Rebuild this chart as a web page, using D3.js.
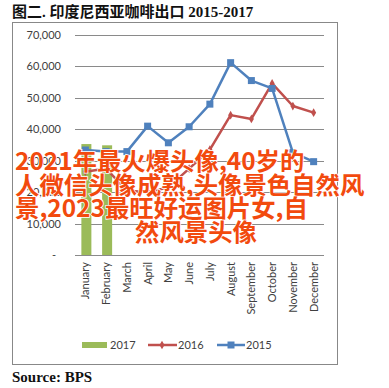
<!DOCTYPE html>
<html><head><meta charset="utf-8">
<script src="https://cdn.jsdelivr.net/npm/d3@7"></script>
<style>html,body{margin:0;padding:0;background:#fff;}svg{display:block;}</style>
</head><body>
<script>
const months = ["January","February","March","April","May","June","July","August","September","October","November","December"];
const values2017 = [35300, 34900];
const values2016 = [26500, 27500, 20500, 20000, 21500, 27500, 33500, 44500, 43300, 54600, 47400, 45300];
const values2015 = [33400, 32900, 32900, 41000, 35700, 40800, 48000, 61200, 55500, 53000, 32600, 29700];
const yTicks = [0, 10000, 20000, 30000, 40000, 50000, 60000, 70000];
const titleText = "图二. 印度尼西亚咖啡出口 2015-2017";
const sourceText = "Source: BPS";
const overlayLines = ["2021年最火爆头像,40岁的", "人微信头像成熟,头像景色自然风", "景,2023最旺好运图片女,自", "然风景头像"];

const W = 389, H = 388;
const svg = d3.select("body").append("svg").attr("width", W).attr("height", H);
const sans = "Lato, 'Open Sans', 'Liberation Sans', sans-serif";

svg.append("text").attr("x", 12).attr("y", 17)
  .attr("font-family", "'Liberation Serif', 'Noto Sans CJK SC', serif")
  .attr("font-weight", "bold").attr("font-size", 15).attr("fill", "#111")
  .text(titleText);

svg.append("rect").attr("x", 12.5).attr("y", 22.5).attr("width", 325).attr("height", 342)
  .attr("fill", "#fff").attr("stroke", "#888").attr("stroke-width", 1);

const x = d3.scaleBand().domain(months).range([75, 324]);
const y = d3.scaleLinear().domain([0, 70000]).range([255, 35]);

// gridlines
svg.append("g").selectAll("line").data(yTicks).join("line")
  .attr("x1", 75).attr("x2", 324)
  .attr("y1", d => Math.round(y(d)) + 0.5).attr("y2", d => Math.round(y(d)) + 0.5)
  .attr("stroke", "#8a8a8a").attr("stroke-width", 1);

// y labels
const fmt = d3.format(",");
svg.append("g").selectAll("text").data(yTicks).join("text")
  .attr("x", d => d === 0 ? 56 : 61).attr("y", d => y(d) + 4)
  .attr("text-anchor", "end").attr("font-family", sans).attr("font-size", 11).attr("fill", "#404040")
  .text(d => d === 0 ? "-" : fmt(d));

// x labels
svg.append("g").selectAll("text").data(months).join("text")
  .attr("transform", d => `translate(${x(d) + x.bandwidth() / 2 + 4},262) rotate(-90)`)
  .attr("text-anchor", "end").attr("font-family", sans).attr("font-size", 11).attr("fill", "#404040")
  .text(d => d);

// bars 2017
const bw = 10;
svg.append("g").selectAll("rect").data(values2017).join("rect")
  .attr("x", (d, i) => x(months[i]) + x.bandwidth() / 2 - bw / 2 + 1)
  .attr("y", d => y(d)).attr("width", bw).attr("height", d => y(0) - y(d))
  .attr("fill", "#9BBB59");

const line = d3.line().x((d, i) => x(months[i]) + x.bandwidth() / 2).y(d => y(d));

// 2016
svg.append("path").datum(values2016).attr("d", line).attr("fill", "none")
  .attr("stroke", "#C0504D").attr("stroke-width", 2.5).attr("stroke-linejoin", "round");
svg.append("g").selectAll("path").data(values2016).join("path")
  .attr("d", d3.symbol(d3.symbolDiamond, 22))
  .attr("transform", (d, i) => `translate(${x(months[i]) + x.bandwidth() / 2},${y(d)})`)
  .attr("fill", "#C0504D");

// 2015
svg.append("path").datum(values2015).attr("d", line).attr("fill", "none")
  .attr("stroke", "#4F81BD").attr("stroke-width", 2.5).attr("stroke-linejoin", "round");
svg.append("g").selectAll("rect").data(values2015).join("rect")
  .attr("x", (d, i) => x(months[i]) + x.bandwidth() / 2 - 3.5)
  .attr("y", d => y(d) - 3.5).attr("width", 7).attr("height", 7)
  .attr("fill", "#4F81BD");

// legend
const lg = svg.append("g").attr("font-family", sans).attr("font-size", 11).attr("fill", "#404040");
lg.append("rect").attr("x", 82).attr("y", 342).attr("width", 25).attr("height", 6).attr("fill", "#9BBB59");
lg.append("text").attr("x", 110).attr("y", 349).text("2017");
lg.append("line").attr("x1", 148).attr("x2", 177).attr("y1", 345).attr("y2", 345).attr("stroke", "#C0504D").attr("stroke-width", 2.5);
lg.append("path").attr("d", d3.symbol(d3.symbolDiamond, 22)).attr("transform", "translate(162,345)").attr("fill", "#C0504D");
lg.append("text").attr("x", 178).attr("y", 349).text("2016");
lg.append("line").attr("x1", 217).attr("x2", 245).attr("y1", 345).attr("y2", 345).attr("stroke", "#4F81BD").attr("stroke-width", 2.5);
lg.append("rect").attr("x", 227.5).attr("y", 341.5).attr("width", 7).attr("height", 7).attr("fill", "#4F81BD");
lg.append("text").attr("x", 246).attr("y", 349).text("2015");

svg.append("text").attr("x", 12).attr("y", 382)
  .attr("font-family", "'Liberation Serif', serif").attr("font-weight", "bold").attr("font-size", 15).attr("fill", "#111")
  .text(sourceText);

// overlay text
const ov = svg.append("g").attr("font-family", "'Noto Sans CJK SC', sans-serif").attr("font-size", 24.4)
  .attr("fill", "#F24A0E").attr("stroke", "#fff").attr("stroke-width", 1.5).attr("paint-order", "stroke")
  .attr("font-weight", "bold");
const ovY = [170, 193.5, 217, 240.5];
overlayLines.forEach((t, i) => {
  ov.append("text").attr("x", i === 3 ? 196 : 15).attr("y", ovY[i])
    .attr("text-anchor", i === 3 ? "middle" : "start").text(t);
});
</script>
</body></html>
